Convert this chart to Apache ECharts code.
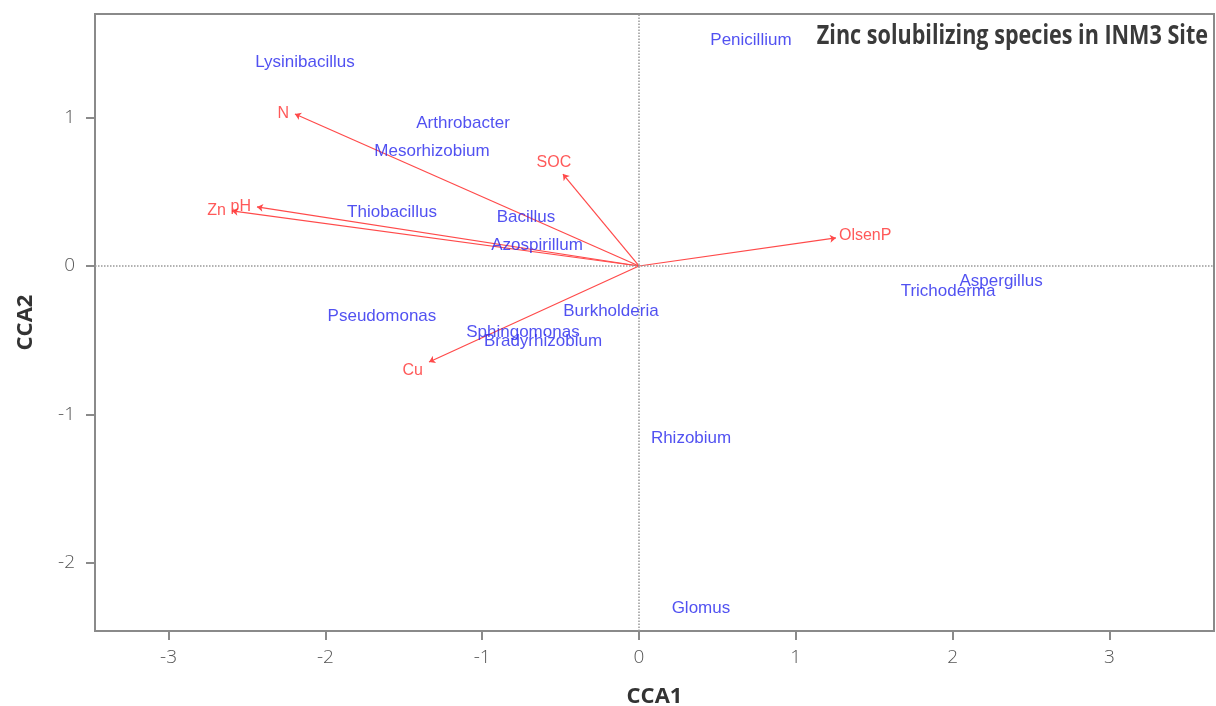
<!DOCTYPE html>
<html>
<head>
<meta charset="utf-8">
<script src="https://cdn.jsdelivr.net/npm/echarts@6/dist/echarts.min.js"></script>
<style>html,body{margin:0;padding:0;background:#fff;overflow:hidden}#c{width:1216px;height:706px}</style>
</head>
<body>
<div id="c"></div>
<script>
const species = ['Lysinibacillus','Penicillium','Arthrobacter','Mesorhizobium','Thiobacillus','Bacillus','Azospirillum','Aspergillus','Trichoderma','Pseudomonas','Burkholderia','Sphingomonas','Bradyrhizobium','Rhizobium','Glomus'];
const speciesCCA1 = [-2.13, 0.714, -1.122, -1.32, -1.575, -0.721, -0.65, 2.309, 1.971, -1.639, -0.179, -0.74, -0.612, 0.332, 0.395];
const speciesCCA2 = [1.376, 1.524, 0.964, 0.775, 0.364, 0.330, 0.142, -0.101, -0.169, -0.337, -0.303, -0.445, -0.506, -1.160, -2.306];
const envVars = ['N','pH','Zn','SOC','OlsenP','Cu'];
const envCCA1 = [-2.194, -2.436, -2.596, -0.485, 1.256, -1.339];
const envCCA2 = [1.025, 0.398, 0.371, 0.620, 0.189, -0.647];
const xTicks = [-3,-2,-1,0,1,2,3];
const yTicks = [-2,-1,0,1];
const xRange = [-3.469, 3.667];
const yRange = [-2.461, 1.699];
const titleText = 'Zinc solubilizing species in INM3 Site';

const envLabelStyle = {
  N: {position:'left', distance:6},
  pH: {position:'left', distance:6},
  Zn: {position:'left', distance:6},
  SOC: {position:'top', distance:3, offset:[-9,0]},
  OlsenP: {position:'right', distance:3, offset:[0,-2]},
  Cu: {position:'left', distance:6, offset:[0,9]}
};

const chart = echarts.init(document.getElementById('c'), null, {renderer:'canvas', width:1216, height:706});
const axisColor = '#8a8a8a';
const tickFont = {color:'#555', fontSize:19, fontFamily:'"Open Sans"', fontWeight:300};

const speciesData = species.map((n,i)=>({name:n, value:[speciesCCA1[i], speciesCCA2[i]]}));
const envTips = envVars.map((n,i)=>{
  const st = envLabelStyle[n];
  return {name:n, value:[envCCA1[i], envCCA2[i]], label:Object.assign({show:true}, st)};
});
const envLines = envVars.map((n,i)=>({coords:[[0,0],[envCCA1[i], envCCA2[i]]]}));

chart.setOption({
  animation:false,
  backgroundColor:'#fff',
  grid:{left:95, right:2, top:14, bottom:75, show:true, borderColor:axisColor, borderWidth:2, containLabel:false, outerBoundsMode:'none'},
  xAxis:{
    type:'value', min:xRange[0], max:xRange[1],
    name:'CCA1', nameLocation:'middle', nameGap:55,
    nameTextStyle:{fontSize:22, fontWeight:'bold', fontFamily:'"Open Sans"', color:'#333'},
    axisLine:{show:true, onZero:false, lineStyle:{color:axisColor, width:2}},
    axisTick:{show:true, length:9, lineStyle:{color:axisColor, width:2}, customValues:xTicks},
    axisLabel:Object.assign({margin:17, customValues:xTicks}, tickFont),
    splitLine:{show:false}
  },
  yAxis:{
    type:'value', min:yRange[0], max:yRange[1],
    name:'CCA2', nameLocation:'middle', nameGap:58,
    nameTextStyle:{fontSize:22, fontWeight:'bold', fontFamily:'"Open Sans"', color:'#333'},
    axisLine:{show:true, onZero:false, lineStyle:{color:axisColor, width:2}},
    axisTick:{show:true, length:9, lineStyle:{color:axisColor, width:2}, customValues:yTicks},
    axisLabel:Object.assign({margin:20, customValues:yTicks}, tickFont),
    splitLine:{show:false}
  },
  graphic:[{
    type:'text', x:1208, y:37, scaleX:0.83,
    style:{text:titleText, font:'bold 26px "Open Sans"', fill:'#3a3a3a', align:'right', verticalAlign:'middle'}
  }],
  series:[
    {
      type:'scatter', symbolSize:0, data:[], silent:true,
      markLine:{silent:true, symbol:'none', label:{show:false},
        lineStyle:{type:'dotted', color:'#999', width:1.5},
        data:[{xAxis:0},{yAxis:0}]}
    },
    {
      type:'lines', coordinateSystem:'cartesian2d', silent:true,
      symbol:['none','arrow'], symbolSize:6,
      lineStyle:{color:'#ff4a4a', width:1.2, opacity:1},
      data:envLines, z:3
    },
    {
      type:'scatter', symbolSize:0, data:envTips, z:4,
      label:{show:true, formatter:'{b}', color:'#ff3030', fontSize:16, fontFamily:'"Liberation Sans", Arial'}
    },
    {
      type:'scatter', symbolSize:0, data:speciesData, z:5,
      label:{show:true, position:'inside', formatter:'{b}', color:'#2626ee', fontSize:17, fontFamily:'"Liberation Sans", Arial'}
    }
  ]
});
</script>
</body>
</html>
